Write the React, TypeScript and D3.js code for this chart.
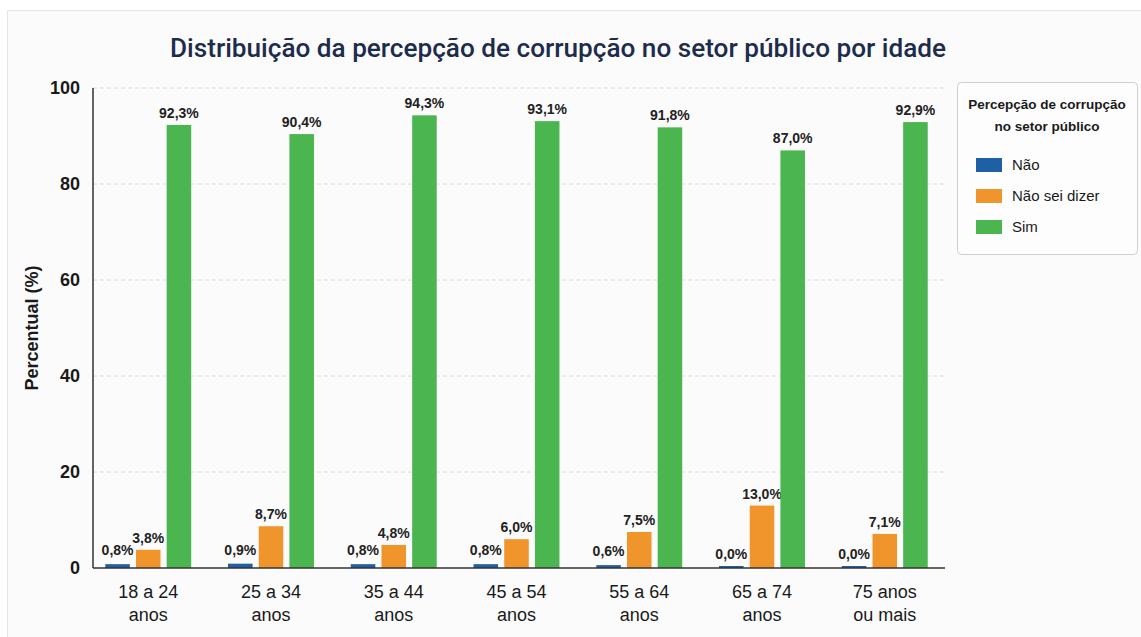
import React from "react";
import * as d3 from "d3";

const categories = [["18 a 24", "anos"], ["25 a 34", "anos"], ["35 a 44", "anos"], ["45 a 54", "anos"], ["55 a 64", "anos"], ["65 a 74", "anos"], ["75 anos", "ou mais"]];
const seriesNames = ["Não", "Não sei dizer", "Sim"];
const naoValues = [0.8, 0.9, 0.8, 0.8, 0.6, 0.0, 0.0];
const naoSeiValues = [3.8, 8.7, 4.8, 6.0, 7.5, 13.0, 7.1];
const simValues = [92.3, 90.4, 94.3, 93.1, 91.8, 87.0, 92.9];
const yTicks = [0, 20, 40, 60, 80, 100];
const colors = ["#1f5fa3", "#f0952c", "#4bb54f"];

const W = 1141, H = 637;
const left = 93, right = 945, top = 88, bottom = 568;

export default function App() {
  const series = [naoValues, naoSeiValues, simValues];
  const x = d3.scaleBand<number>().domain(d3.range(categories.length)).range([left, 940]).paddingInner(0.3).paddingOuter(0.1);
  const xi = d3.scaleBand<number>().domain([0, 1, 2]).range([0, x.bandwidth()]).paddingInner(0.2);
  const y = d3.scaleLinear().domain([0, 100]).range([bottom, top]);
  const font = "'Liberation Sans', Arial, sans-serif";
  const fmt = (v: number) => v.toFixed(1).replace(".", ",") + "%";
  return (
    <svg width={W} height={H} style={{ position: "absolute", left: 0, top: 0, fontFamily: font }}>
      <rect x={0} y={0} width={W} height={H} fill="#ffffff" />
      <rect x={7.5} y={10.5} width={W} height={H} fill="#fbfbfb" stroke="#e6e6e6" />
      <text x={558} y={57} textAnchor="middle" fontSize={26} fontWeight={500} fill="#1d2c4c" textLength={776} lengthAdjust="spacingAndGlyphs" fontFamily="Roboto, sans-serif">Distribuição da percepção de corrupção no setor público por idade</text>
      {yTicks.map(t => (
        <g key={t}>
          {t > 0 && <line x1={left} x2={right} y1={y(t)} y2={y(t)} stroke="#dcdcdc" strokeDasharray="4,3" strokeWidth={1} />}
          <text x={80} y={y(t)} dy="0.35em" textAnchor="end" fontSize={18} fontWeight={700} fill="#1a1a1a">{t}</text>
        </g>
      ))}
      <text transform={`translate(38,${(top + bottom) / 2}) rotate(-90)`} textAnchor="middle" fontSize={18} fontWeight={700} fill="#1a1a1a">Percentual (%)</text>
      {categories.map((c, i) => (
        <g key={i} transform={`translate(${x(i)},0)`}>
          {series.map((s, k) => (
            <g key={k}>
              <rect x={xi(k)} y={y(s[i])} width={xi.bandwidth()} height={Math.max(bottom - y(s[i]), 0)} fill={colors[k]} />
              {s[i] === 0 && <rect x={xi(k)} y={bottom - 2} width={xi.bandwidth()} height={2} fill={colors[k]} />}
              <text x={(xi(k) as number) + xi.bandwidth() / 2} y={y(s[i]) - (s[i] < 1.5 ? 9 : 7)} textAnchor="middle" fontSize={14} fontWeight={700} fill="#222">{fmt(s[i])}</text>
            </g>
          ))}
          <text x={x.bandwidth() / 2} y={598} textAnchor="middle" fontSize={18} fill="#1a1a1a">{c[0]}</text>
          <text x={x.bandwidth() / 2} y={621} textAnchor="middle" fontSize={18} fill="#1a1a1a">{c[1]}</text>
        </g>
      ))}
      <line x1={left} x2={left} y1={top} y2={bottom} stroke="#333" strokeWidth={1.5} />
      <line x1={left} x2={right} y1={bottom} y2={bottom} stroke="#333" strokeWidth={1.5} />
      <g>
        <rect x={957.5} y={82.5} width={180} height={172} rx={4} fill="#fdfdfd" stroke="#cfcfcf" />
        <text x={1047} y={109} textAnchor="middle" fontSize={13.5} fontWeight={700} fill="#1a1a1a">Percepção de corrupção</text>
        <text x={1047} y={131} textAnchor="middle" fontSize={13.5} fontWeight={700} fill="#1a1a1a">no setor público</text>
        {seriesNames.map((n, k) => (
          <g key={n} transform={`translate(976,${165 + k * 31})`}>
            <rect x={0} y={-7} width={26} height={14} fill={colors[k]} />
            <text x={36} y={0} dy="0.35em" fontSize={15} fill="#1a1a1a">{n}</text>
          </g>
        ))}
      </g>
    </svg>
  );
}
